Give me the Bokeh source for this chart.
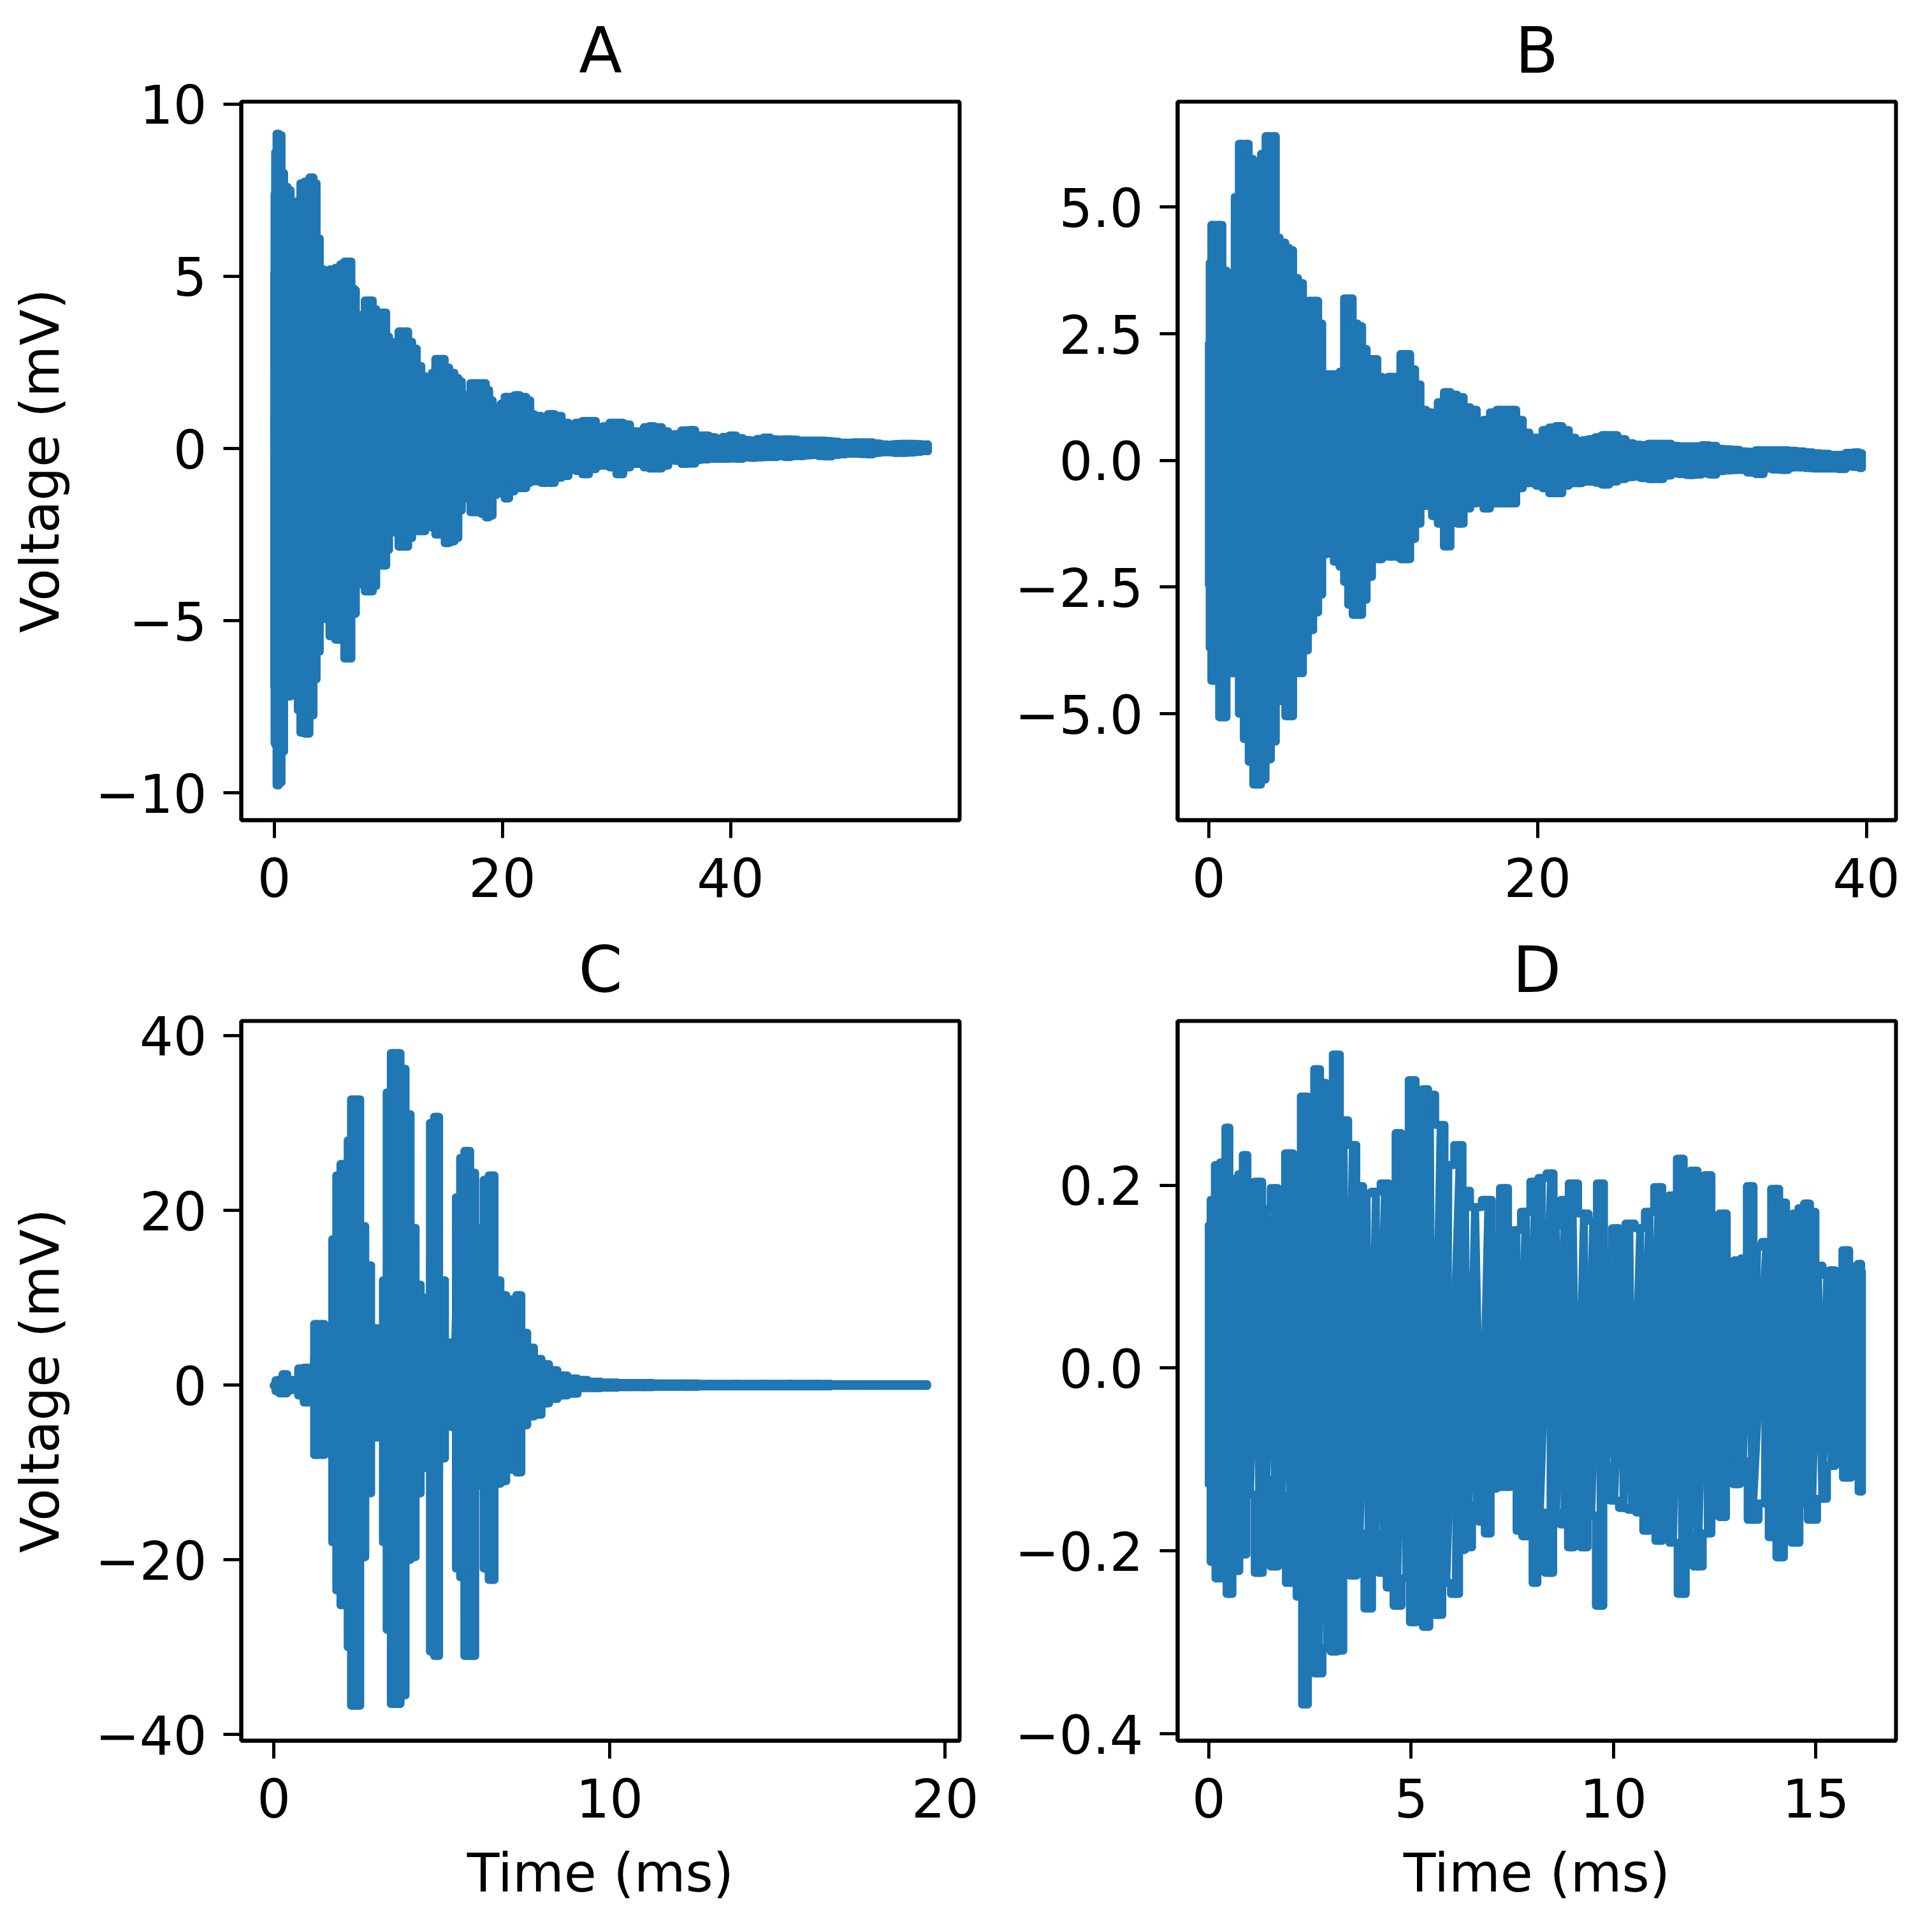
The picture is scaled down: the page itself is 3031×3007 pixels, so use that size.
from bokeh.plotting import figure
from bokeh.layouts import column, row
from bokeh.models import FixedTicker, Range1d
from bokeh.embed import file_html
from bokeh.resources import INLINE

# ---------- values (ms, mV): outer envelope of each trace ----------
a_t = [0.0,0.02,0.06,0.12,0.3,0.55,0.75,1.0,1.35,1.55,1.95,2.2,2.4,2.9,3.3,3.6,3.85,4.15,4.6,5.1,5.6,6.0,6.3,6.65,6.9,7.1,7.23,7.5,7.8,8.1,8.5,8.8,9.1,9.7,9.95,10.2,10.5,10.75,11.05,11.6,11.9,12.3,12.7,13.1,13.4,13.7,13.95,14.3,14.8,15.1,15.6,16.0,16.3,16.6,17.0,17.4,17.9,18.4,18.7,19.0,19.3,19.7,20.0,20.4,20.8,21.3,21.8,22.4,22.5,23.1,23.7,24.3,24.9,25.5,26.1,26.7,27.3,27.9,28.5,29.1,29.7,30.3,30.9,31.5,32.1,32.7,33.0,33.7,34.3,34.8,35.4,36.0,36.6,37.2,37.8,38.4,39.0,39.6,40.2,40.8,41.4,42.0,42.6,43.2,43.8,44.4,45.0,45.6,46.2,46.8,47.4,48.0,48.6,49.2,49.8,50.4,51.0,51.6,52.2,52.8,53.4,54.0,54.6,55.2,55.8,56.4,57.0,57.3]
a_up = [0.05,5.1,7.4,8.6,9.14,9.1,8.0,7.6,7.5,4.95,4.95,7.2,7.7,7.75,7.87,7.7,6.1,5.2,5.05,5.2,5.25,5.35,5.43,5.43,4.65,4.6,3.9,3.1,3.4,4.3,4.3,4.05,3.95,3.95,3.25,3.1,2.85,2.25,3.4,3.4,3.1,2.9,2.4,2.1,1.6,1.6,2.2,2.6,2.6,2.35,2.2,2.05,1.95,1.25,1.55,1.9,1.9,1.9,1.7,1.4,1.15,1.05,1.3,1.5,1.5,1.55,1.5,1.4,1.0,0.95,0.9,1.0,0.95,0.75,0.65,0.75,0.8,0.8,0.55,0.65,0.75,0.75,0.7,0.5,0.5,0.62,0.65,0.62,0.5,0.33,0.42,0.53,0.54,0.38,0.38,0.33,0.28,0.34,0.38,0.3,0.25,0.23,0.28,0.32,0.27,0.26,0.27,0.26,0.23,0.23,0.23,0.23,0.22,0.2,0.17,0.17,0.18,0.18,0.18,0.15,0.12,0.11,0.13,0.14,0.14,0.13,0.12,0.12]
a_lo = [-0.05,-6.9,-8.55,-8.6,-9.78,-9.7,-8.8,-7.2,-7.2,-6.3,-6.85,-7.6,-8.25,-8.28,-7.75,-6.7,-5.9,-4.95,-4.95,-5.45,-5.55,-5.45,-6.1,-6.1,-4.8,-4.8,-2.95,-3.45,-3.95,-4.15,-4.15,-4.0,-3.4,-3.4,-2.95,-2.3,-2.3,-2.45,-2.85,-2.85,-2.6,-2.4,-2.4,-2.4,-1.7,-1.7,-2.3,-2.5,-2.5,-2.75,-2.7,-2.6,-1.8,-1.3,-1.45,-1.85,-1.85,-1.9,-2.0,-1.95,-1.35,-0.95,-1.3,-1.45,-1.25,-1.15,-1.15,-1.0,-0.9,-0.95,-1.0,-1.0,-0.85,-0.8,-0.55,-0.65,-0.75,-0.6,-0.5,-0.5,-0.55,-0.75,-0.55,-0.45,-0.45,-0.55,-0.58,-0.58,-0.5,-0.27,-0.36,-0.45,-0.44,-0.33,-0.32,-0.3,-0.3,-0.3,-0.29,-0.3,-0.26,-0.27,-0.26,-0.25,-0.25,-0.22,-0.25,-0.22,-0.22,-0.2,-0.19,-0.22,-0.23,-0.19,-0.17,-0.15,-0.15,-0.16,-0.17,-0.13,-0.11,-0.11,-0.13,-0.13,-0.12,-0.1,-0.08,-0.08]

b_t = [0.0,0.1,0.2,0.55,0.7,0.95,1.2,1.45,1.7,1.95,2.3,2.55,2.85,3.05,3.3,3.6,3.95,4.2,4.4,4.55,4.75,5.0,5.25,5.6,5.85,6.2,6.5,6.8,7.0,7.4,7.8,8.1,8.35,8.6,8.9,9.2,9.45,9.75,10.1,10.4,10.7,11.1,11.5,11.8,12.1,12.4,12.7,13.05,13.4,13.75,14.1,14.5,14.9,15.3,15.7,16.1,16.5,16.9,17.3,17.7,18.1,18.5,18.9,19.3,19.7,20.1,20.5,20.9,21.3,21.7,22.1,22.5,22.9,23.3,23.7,24.1,24.6,25.1,25.6,26.05,26.5,26.95,27.4,27.9,28.35,28.8,29.3,29.75,30.2,30.65,31.1,31.6,32.05,32.5,33.0,33.5,34.0,34.5,35.0,35.5,36.0,36.5,37.0,37.5,38.0,38.5,39.0,39.4,39.73]
b_up = [2.3,3.9,4.65,4.65,4.65,3.75,3.7,3.65,5.2,6.25,6.25,5.95,5.75,5.9,6.05,6.4,6.4,4.4,4.3,4.3,4.2,4.15,3.6,3.5,3.1,3.15,3.15,2.7,1.7,1.7,1.7,1.75,3.2,3.2,2.7,2.65,2.2,2.0,2.0,1.65,1.55,1.65,1.65,2.1,2.1,1.8,1.5,1.0,0.95,0.8,1.15,1.35,1.3,1.25,1.05,1.0,0.6,0.8,0.95,1.0,1.0,1.0,0.8,0.55,0.45,0.45,0.6,0.65,0.68,0.6,0.45,0.37,0.4,0.42,0.46,0.5,0.5,0.42,0.34,0.31,0.3,0.33,0.33,0.33,0.29,0.28,0.28,0.28,0.3,0.29,0.23,0.22,0.21,0.18,0.17,0.2,0.2,0.2,0.2,0.19,0.18,0.16,0.14,0.13,0.11,0.11,0.15,0.16,0.14]
b_lo = [-2.45,-3.7,-4.35,-4.35,-5.07,-5.07,-3.3,-4.2,-4.2,-5.0,-5.5,-5.95,-6.4,-6.4,-6.3,-5.9,-5.55,-4.75,-4.75,-3.9,-5.05,-5.05,-4.2,-4.2,-3.75,-3.35,-3.0,-2.65,-1.85,-1.4,-2.0,-2.1,-2.4,-2.85,-3.05,-3.05,-2.75,-2.3,-1.7,-1.95,-1.7,-1.9,-1.9,-1.95,-1.95,-1.55,-1.25,-0.9,-0.75,-1.1,-1.25,-1.7,-1.2,-1.25,-0.95,-0.85,-0.75,-0.95,-0.85,-0.85,-0.85,-0.85,-0.55,-0.45,-0.45,-0.5,-0.55,-0.65,-0.65,-0.5,-0.45,-0.45,-0.42,-0.42,-0.44,-0.48,-0.42,-0.37,-0.33,-0.32,-0.35,-0.37,-0.37,-0.3,-0.26,-0.27,-0.29,-0.28,-0.26,-0.28,-0.21,-0.2,-0.19,-0.19,-0.24,-0.27,-0.16,-0.18,-0.19,-0.14,-0.14,-0.15,-0.16,-0.16,-0.16,-0.17,-0.12,-0.13,-0.15]

c_t = [0.0,0.1,0.22,0.3,0.5,0.65,0.8,0.98,1.15,1.25,1.45,1.58,1.68,1.8,1.92,2.05,2.15,2.25,2.35,2.5,2.65,2.8,3.0,3.2,3.3,3.42,3.55,3.7,3.85,4.0,4.15,4.3,4.45,4.6,4.7,4.85,5.0,5.2,5.35,5.5,5.6,5.75,5.95,6.05,6.2,6.3,6.5,6.65,6.85,7.0,7.15,7.3,7.45,7.65,7.85,8.1,8.3,8.6,8.9,9.2,9.5,10.0,10.5,11.0,11.6,12.3,13.0,13.8,14.6,15.4,16.2,17.0,17.8,18.6,19.46]
c_up = [0.0,0.55,0.65,1.25,0.6,0.5,1.9,2.0,1.95,7.0,7.0,4.3,3.8,16.7,24.0,25.3,25.3,28.0,32.7,32.7,18.2,13.7,6.5,4.4,12.0,33.5,38.0,38.0,36.2,31.0,18.0,11.5,10.0,8.9,30.0,30.7,12.0,4.4,4.9,21.5,26.0,26.8,24.3,18.0,9.0,23.5,24.0,12.0,10.3,5.5,9.8,10.3,6.0,4.3,3.0,2.4,1.7,1.1,0.75,0.6,0.4,0.3,0.25,0.25,0.2,0.2,0.15,0.15,0.15,0.15,0.15,0.1,0.1,0.1,0.1]
c_lo = [-0.1,-0.7,-0.95,-0.95,-0.57,-0.4,-1.2,-2.0,-1.5,-8.0,-8.0,-5.0,-4.5,-18.0,-23.5,-25.2,-25.0,-30.0,-36.7,-36.7,-19.7,-12.4,-6.0,-5.2,-18.0,-28.0,-36.5,-36.5,-35.5,-20.0,-19.7,-12.4,-9.5,-9.2,-30.5,-31.0,-8.4,-4.6,-4.8,-21.0,-22.0,-31.0,-31.0,-11.5,-11.4,-21.0,-22.3,-11.3,-11.0,-4.6,-9.7,-10.0,-4.6,-3.6,-3.4,-2.1,-1.6,-1.2,-1.0,-0.35,-0.35,-0.3,-0.25,-0.25,-0.2,-0.2,-0.15,-0.15,-0.15,-0.15,-0.15,-0.1,-0.1,-0.1,-0.1]

d_t_up = [0.0,0.09,0.21,0.35,0.47,0.55,0.67,0.79,0.89,1.02,1.22,1.42,1.64,1.77,2.0,2.17,2.38,2.52,2.69,2.81,2.98,3.15,3.33,3.56,3.73,3.9,4.13,4.36,4.54,4.69,4.83,5.05,5.17,5.38,5.46,5.73,5.92,6.21,6.33,6.58,6.91,7.08,7.31,7.48,7.6,7.83,8.06,8.23,8.46,8.58,8.81,8.98,9.27,9.5,9.68,9.85,10.08,10.2,10.39,10.66,10.89,11.12,11.29,11.47,11.66,11.81,11.99,12.16,12.33,12.51,12.71,12.89,13.08,13.22,13.37,13.55,13.78,14.01,14.18,14.35,14.5,14.64,14.78,14.93,15.05,15.28,15.39,15.57,15.74,15.91,15.97,16.1,16.14]
d_up = [0.156,0.184,0.222,0.225,0.263,0.207,0.179,0.212,0.233,0.141,0.204,0.174,0.197,0.161,0.235,0.187,0.297,0.286,0.327,0.312,0.299,0.343,0.271,0.244,0.199,0.191,0.193,0.202,0.184,0.257,0.233,0.315,0.222,0.305,0.299,0.266,0.222,0.244,0.194,0.176,0.184,0.143,0.197,0.115,0.151,0.171,0.204,0.208,0.213,0.156,0.184,0.202,0.169,0.161,0.202,0.128,0.153,0.128,0.158,0.153,0.171,0.198,0.156,0.189,0.229,0.184,0.216,0.184,0.211,0.135,0.169,0.107,0.118,0.12,0.199,0.133,0.138,0.196,0.181,0.161,0.169,0.175,0.18,0.171,0.112,0.102,0.107,0.105,0.129,0.087,0.111,0.114,0.105]
d_t_lo = [0.0,0.09,0.24,0.38,0.5,0.67,0.84,1.02,1.25,1.42,1.63,1.8,2.01,2.11,2.23,2.38,2.52,2.7,2.92,3.1,3.27,3.38,3.58,3.73,3.96,4.11,4.31,4.48,4.65,4.88,5.06,5.2,5.38,5.52,5.67,5.87,6.1,6.27,6.39,6.62,6.73,6.91,7.02,7.2,7.37,7.55,7.66,7.83,7.94,8.06,8.18,8.44,8.58,8.79,8.96,9.1,9.27,9.45,9.68,9.82,10.02,10.25,10.46,10.66,10.81,10.95,11.12,11.29,11.47,11.7,11.87,12.08,12.33,12.51,12.71,12.85,13.05,13.2,13.43,13.74,13.93,14.12,14.3,14.49,14.7,14.9,15.16,15.39,15.57,15.77,15.97,16.14]
d_lo = [-0.127,-0.212,-0.23,-0.178,-0.247,-0.222,-0.204,-0.138,-0.224,-0.122,-0.217,-0.14,-0.235,-0.178,-0.25,-0.368,-0.286,-0.334,-0.306,-0.31,-0.309,-0.219,-0.227,-0.181,-0.263,-0.181,-0.224,-0.24,-0.26,-0.23,-0.278,-0.232,-0.283,-0.232,-0.27,-0.235,-0.247,-0.199,-0.196,-0.15,-0.168,-0.181,-0.132,-0.13,-0.13,-0.089,-0.178,-0.184,-0.125,-0.235,-0.158,-0.224,-0.158,-0.171,-0.196,-0.166,-0.196,-0.161,-0.26,-0.107,-0.145,-0.153,-0.155,-0.158,-0.178,-0.166,-0.189,-0.168,-0.191,-0.247,-0.184,-0.217,-0.181,-0.155,-0.163,-0.102,-0.127,-0.102,-0.166,-0.148,-0.185,-0.207,-0.171,-0.191,-0.148,-0.166,-0.143,-0.107,-0.094,-0.12,-0.097,-0.135]

titles = ["A", "B", "C", "D"]
x_label = "Time (ms)"
y_label = "Voltage (mV)"
a_xticks = [0, 20, 40]
a_yticks = {-10: "\u221210", -5: "\u22125", 0: "0", 5: "5", 10: "10"}
b_xticks = [0, 20, 40]
b_yticks = {-5: "\u22125.0", -2.5: "\u22122.5", 0: "0.0", 2.5: "2.5", 5: "5.0"}
c_xticks = [0, 10, 20]
c_yticks = {-40: "\u221240", -20: "\u221220", 0: "0", 20: "20", 40: "40"}
d_xticks = [0, 5, 10, 15]
d_yticks = {-0.4: "\u22120.4", -0.2: "\u22120.2", 0: "0.0", 0.2: "0.2"}

BLUE = "#1f77b4"
FONT = "DejaVu Sans"
TICK_PX = "83px"


def nearest(ts, t):
    return min(range(len(ts)), key=lambda k: abs(ts[k] - t))


def trace(tu, up, tl, lo):
    """Swing between upper and lower readings, as the oscillating signal does."""
    swings = {}
    for i, t in enumerate(tu):
        j = nearest(tl, t)
        swings[(i, j)] = t
    for j, t in enumerate(tl):
        i = nearest(tu, t)
        swings.setdefault((i, j), t)
    xs, ys = [], []
    for (i, j), t in sorted(swings.items(), key=lambda kv: (kv[1], kv[0])):
        xs += [tu[i], tl[j]]
        ys += [up[i], lo[j]]
    return xs, ys


def panel(title, tu, up, tl, lo, xr, yr, xticks, yticks, left, right, top, bottom, fh, xlab=None, ylab=None):
    p = figure(frame_width=1127, frame_height=fh, toolbar_location=None, output_backend="svg",
               x_range=Range1d(*xr), y_range=Range1d(*yr), title=title,
               min_border_left=left, min_border_right=right, min_border_top=top, min_border_bottom=bottom)
    p.title.align = "center"
    p.title.vertical_align = "top"
    p.title.text_font = FONT
    p.title.text_font_size = "99px"
    p.title.text_font_style = "normal"
    p.title.text_color = "black"
    p.title.standoff = 42
    p.grid.visible = False
    p.outline_line_color = "black"
    p.outline_line_width = 6
    p.outline_line_alpha = 1
    p.background_fill_color = "white"
    xs, ys = trace(tu, up, tl, lo)
    style = dict(line_color=BLUE, line_width=12.5, line_join="round", line_cap="round")
    p.line(xs, ys, **style)
    p.step(tu, up, mode="center", **style)
    p.step(tl, lo, mode="center", **style)
    for ax, ticks, labels in ((p.xaxis[0], xticks, None), (p.yaxis[0], list(yticks.keys()), yticks)):
        ax.ticker = FixedTicker(ticks=ticks)
        ax.axis_line_color = "black"
        ax.axis_line_width = 6
        ax.major_tick_line_color = "black"
        ax.major_tick_line_width = 5
        ax.major_tick_out = 28
        ax.major_tick_in = 0
        ax.minor_tick_line_color = None
        ax.major_label_text_font = FONT
        ax.major_label_text_font_size = TICK_PX
        ax.major_label_text_color = "black"
        ax.axis_label_text_font = FONT
        ax.axis_label_text_font_size = TICK_PX
        ax.axis_label_text_font_style = "normal"
        ax.axis_label_text_color = "black"
        if labels:
            ax.major_label_overrides = labels
    p.xaxis[0].major_label_standoff = 30
    p.yaxis[0].major_label_standoff = 26
    if xlab:
        p.xaxis[0].axis_label = xlab
        p.xaxis[0].axis_label_standoff = 36
    if ylab:
        p.yaxis[0].axis_label = ylab
        p.yaxis[0].axis_label_standoff = 34
    return p


pa = panel(titles[0], a_t, a_up, a_t, a_lo, (-2.88, 60.08), (-10.79, 10.07), a_xticks, a_yticks, 378, 40, 159, 155, 1127, ylab=y_label)
pb = panel(titles[1], b_t, b_up, b_t, b_lo, (-1.9, 41.8), (-7.10, 7.08), b_xticks, b_yticks, 302, 40, 159, 155, 1127)
pc = panel(titles[2], c_t, c_up, c_t, c_lo, (-0.97, 20.43), (-40.7, 41.67), c_xticks, c_yticks, 378, 40, 160, 260, 1129, xlab=x_label, ylab=y_label)
pd = panel(titles[3], d_t_up, d_up, d_t_lo, d_lo, (-0.77, 16.98), (-0.4075, 0.3796), d_xticks, d_yticks, 302, 40, 160, 260, 1129, xlab=x_label)

layout = column(row(pa, pb), row(pc, pd))
open("out.html", "w").write(file_html(layout, INLINE))
